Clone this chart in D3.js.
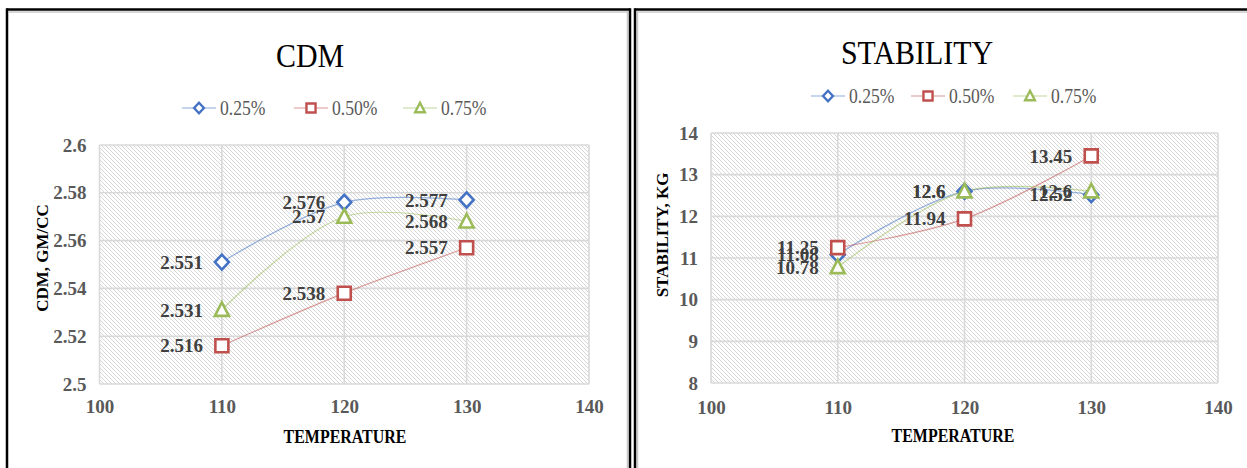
<!DOCTYPE html>
<html><head><meta charset="utf-8">
<script src="https://cdn.jsdelivr.net/npm/d3@7"></script>
<style>
html,body{margin:0;padding:0;background:#fff;}
svg{display:block;}
text{font-family:"Liberation Serif","DejaVu Serif",serif;}
</style></head>
<body>
<svg id="c" width="1247" height="468"></svg>
<script>
// ---- data ----
const temperatures = [110, 120, 130];
const seriesNames = ["0.25%", "0.50%", "0.75%"];
const cdm025 = [2.551, 2.576, 2.577];
const cdm050 = [2.516, 2.538, 2.557];
const cdm075 = [2.531, 2.57, 2.568];
const stab025 = [11.08, 12.6, 12.52];
const stab050 = [11.25, 11.94, 13.45];
const stab075 = [10.78, 12.6, 12.6];
const xTickValues = [100, 110, 120, 130, 140];
const cdmTickValues = [2.5, 2.52, 2.54, 2.56, 2.58, 2.6];
const stabTickValues = [8, 9, 10, 11, 12, 13, 14];

const colors = ["#4472C4", "#C0504D", "#9BBB59"];
const shapes = ["diamond", "square", "triangle"];

const svg = d3.select("#c");
const defs = svg.append("defs");
const pat = defs.append("pattern").attr("id", "hatch").attr("patternUnits", "userSpaceOnUse")
  .attr("width", 4).attr("height", 4);
pat.append("rect").attr("width", 4).attr("height", 4).attr("fill", "#ffffff");
pat.append("path").attr("d", "M-1,-1 L5,5 M-1,3 L1,5 M3,-1 L5,1")
  .attr("stroke", "#d2d2d2").attr("stroke-width", 0.9);

// frames
function frame(x0, x1, y0, hasRight, hasLeft) {
  const g = svg.append("g");
  g.append("line").attr("x1", x0 + 2).attr("x2", x1 - 2).attr("y1", y0 + 2.5).attr("y2", y0 + 2.5)
    .attr("stroke", "#c8c8c8").attr("stroke-width", 1.5);
  if (hasRight) g.append("line").attr("x1", x1 - 2.5).attr("x2", x1 - 2.5).attr("y1", y0 + 2).attr("y2", 470)
    .attr("stroke", "#c8c8c8").attr("stroke-width", 1.5);
  if (!hasRight) g.append("line").attr("x1", x0 + 2.5).attr("x2", x0 + 2.5).attr("y1", y0 + 2).attr("y2", 470)
    .attr("stroke", "#c8c8c8").attr("stroke-width", 1.5);
  g.append("line").attr("x1", x0).attr("x2", x1).attr("y1", y0).attr("y2", y0)
    .attr("stroke", "#000").attr("stroke-width", 2.5);
  if (hasLeft) g.append("line").attr("x1", x0).attr("x2", x0).attr("y1", y0 - 1.2).attr("y2", 470)
    .attr("stroke", "#000").attr("stroke-width", 2.5);
  if (hasRight) g.append("line").attr("x1", x1).attr("x2", x1).attr("y1", y0 - 1.2).attr("y2", 470)
    .attr("stroke", "#000").attr("stroke-width", 2.5);
}
frame(7, 630, 9.5, true, true);
frame(635, 1250, 9.5, false, true);

function markerPath(shape) {
  if (shape === "diamond") return "M0,-7.5 L7,0 L0,7.5 L-7,0 Z";
  if (shape === "square") return "M-6.5,-6.5 L6.5,-6.5 L6.5,6.5 L-6.5,6.5 Z";
  return "M0,-7.5 L7,6 L-7,6 Z";
}

// condensed text helper
function ctext(parent, x, y, sx, txt) {
  return parent.append("text").attr("transform", `translate(${x},${y}) scale(${sx},1)`).text(txt);
}

function panel(cfg) {
  const g = svg.append("g");
  const x = d3.scaleLinear().domain([100, 140]).range([cfg.px0, cfg.px1]);
  const y = d3.scaleLinear().domain(cfg.yDomain).range([cfg.py1, cfg.py0]);

  g.append("rect").attr("x", cfg.px0).attr("y", cfg.py0)
    .attr("width", cfg.px1 - cfg.px0).attr("height", cfg.py1 - cfg.py0)
    .attr("fill", "url(#hatch)");

  g.append("g").selectAll("line").data(cfg.yTicks).join("line")
    .attr("x1", cfg.px0).attr("x2", cfg.px1)
    .attr("y1", d => y(d)).attr("y2", d => y(d))
    .attr("stroke", "#d9d9d9").attr("stroke-width", 1.6);
  g.append("g").selectAll("line").data(xTickValues).join("line")
    .attr("y1", cfg.py0).attr("y2", cfg.py1)
    .attr("x1", d => x(d)).attr("x2", d => x(d))
    .attr("stroke", "#d9d9d9").attr("stroke-width", 1.6);

  const xa = g.append("g").attr("transform", `translate(0,${cfg.py1})`)
    .call(d3.axisBottom(x).tickValues(xTickValues).tickSize(0).tickPadding(cfg.xPad).tickFormat(d3.format("d")));
  xa.select(".domain").remove();
  xa.selectAll("text").attr("font-family", "Liberation Serif").attr("font-size", 19)
    .attr("font-weight", "bold").attr("fill", "#595959");
  const ya = g.append("g").attr("transform", `translate(${cfg.px0},0)`)
    .call(d3.axisLeft(y).tickValues(cfg.yTicks).tickSize(0).tickPadding(cfg.yPad).tickFormat(d => String(+d.toFixed(2))));
  ya.select(".domain").remove();
  ya.selectAll("text").attr("font-family", "Liberation Serif").attr("font-size", 19)
    .attr("font-weight", "bold").attr("fill", "#595959");

  const line = d3.line().x((d, i) => x(temperatures[i])).y(d => y(d)).curve(d3.curveCatmullRom.alpha(0.5));
  cfg.series.forEach((s, k) => {
    g.append("path").attr("d", line(s)).attr("fill", "none")
      .attr("stroke", colors[k]).attr("stroke-opacity", 0.55).attr("stroke-width", 1.2);
  });
  cfg.series.forEach((s, k) => {
    g.append("g").selectAll("path").data(s).join("path")
      .attr("d", markerPath(shapes[k]))
      .attr("transform", (d, i) => `translate(${x(temperatures[i])},${y(d)})`)
      .attr("fill", "#fff").attr("stroke", colors[k]).attr("stroke-width", 2.6);
  });
  cfg.series.forEach((s, k) => {
    g.append("g").selectAll("text").data(s).join("text")
      .attr("x", (d, i) => x(temperatures[i]) - 19)
      .attr("y", d => y(d)).attr("dy", "0.35em")
      .attr("text-anchor", "end").attr("font-size", 19).attr("font-weight", "bold")
      .attr("fill", "#404040").text(d => String(d));
  });

  ctext(g, cfg.titleX, cfg.titleY, 0.88, cfg.title).attr("text-anchor", "middle")
    .attr("font-size", 34).attr("fill", "#000");
  const lg = g.append("g");
  seriesNames.forEach((n, k) => {
    const mx = cfg.legendX[k];
    lg.append("line").attr("x1", mx - 17).attr("x2", mx + 17).attr("y1", cfg.legendY).attr("y2", cfg.legendY)
      .attr("stroke", colors[k]).attr("stroke-opacity", 0.6).attr("stroke-width", 1.2);
    lg.append("path").attr("d", markerPath(shapes[k]))
      .attr("transform", `translate(${mx},${cfg.legendY}) scale(0.7)`)
      .attr("fill", "#fff").attr("stroke", colors[k]).attr("stroke-width", 3.4);
    ctext(lg, mx + 21, cfg.legendY, 0.88, n).attr("dy", "0.35em")
      .attr("font-size", 20).attr("fill", "#595959");
  });
  ctext(g, cfg.xTitleX, cfg.xTitleY, 0.84, "TEMPERATURE").attr("text-anchor", "middle")
    .attr("dy", "0.35em").attr("font-size", 19).attr("font-weight", "bold").attr("fill", "#000");
  g.append("text").attr("transform", `translate(${cfg.yTitleX},${cfg.yTitleY}) rotate(-90)`)
    .attr("text-anchor", "middle").attr("dy", "0.35em")
    .attr("font-size", 17).attr("font-weight", "bold").attr("fill", "#000").text(cfg.yTitle);
}

panel({
  px0: 99.5, px1: 589, py0: 145, py1: 384,
  yDomain: [2.5, 2.6], yTicks: cdmTickValues,
  series: [cdm025, cdm050, cdm075],
  title: "CDM", titleX: 310, titleY: 67,
  legendY: 108, legendX: [199, 311, 420],
  xTitleX: 345, xTitleY: 436, yTitleX: 42, yTitleY: 258, yTitle: "CDM, GM/CC",
  xPad: 16, yPad: 13
});
panel({
  px0: 711, px1: 1218, py0: 133, py1: 383,
  yDomain: [8, 14], yTicks: stabTickValues,
  series: [stab025, stab050, stab075],
  title: "STABILITY", titleX: 917, titleY: 64,
  legendY: 96, legendX: [828, 928, 1030],
  xTitleX: 953, xTitleY: 435, yTitleX: 662, yTitleY: 235, yTitle: "STABILITY, KG",
  xPad: 18, yPad: 13
});
</script>
</body></html>
